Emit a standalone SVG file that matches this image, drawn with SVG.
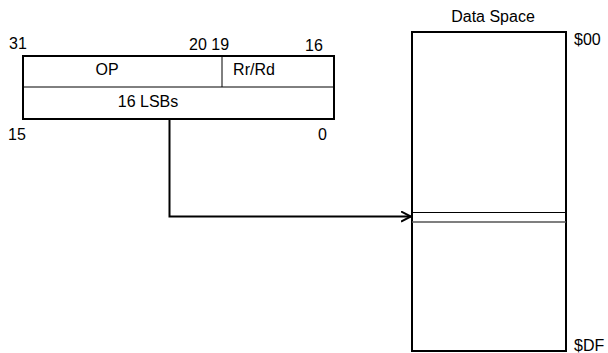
<svg xmlns="http://www.w3.org/2000/svg" width="608" height="353" viewBox="0 0 608 353">
<style>
text{font-family:"Liberation Sans",Arial,sans-serif;font-size:16px;fill:#000}
.box{fill:#fff;stroke:#000;stroke-width:2}
.thin{stroke:#000;stroke-width:1;fill:none}
.conn{stroke:#000;stroke-width:2;fill:none}
</style>
<defs>
<marker id="arr" markerWidth="12" markerHeight="12" refX="10" refY="6" orient="auto" markerUnits="userSpaceOnUse">
<path d="M0,1 L10,6 L0,11" fill="none" stroke="#000" stroke-width="2"/>
</marker>
</defs>
<g id="instruction">
<rect class="box" x="23" y="56" width="311" height="63"/>
<line class="thin" x1="23" y1="87" x2="334" y2="87" stroke-width="1.5"/>
<line class="thin" x1="222" y1="56" x2="222" y2="87"/>
<text x="107" y="75" text-anchor="middle">OP</text>
<text x="254" y="75" text-anchor="middle">Rr/Rd</text>
<text x="148" y="107" text-anchor="middle">16 LSBs</text>
<text x="9" y="49">31</text>
<text x="189" y="50">20 19</text>
<text x="305" y="51">16</text>
<text x="8" y="140">15</text>
<text x="318" y="140">0</text>
</g>
<g id="dataspace">
<rect class="box" x="412" y="32" width="154" height="319"/>
<line x1="412" y1="212.5" x2="566" y2="212.5" stroke="#000" stroke-width="1"/>
<line x1="412" y1="222" x2="566" y2="222" stroke="#555" stroke-width="1.5"/>
<text x="493" y="22" text-anchor="middle">Data Space</text>
<text x="574" y="45">$00</text>
<text x="574" y="351">$DF</text>
</g>
<g id="connectors">
<path class="conn" d="M169.5,119 V216.5 H411" marker-end="url(#arr)"/>
</g>
</svg>
